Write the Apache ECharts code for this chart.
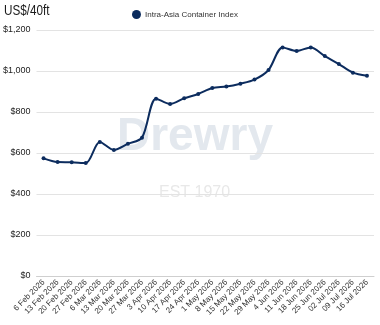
<!DOCTYPE html>
<html><head><meta charset="utf-8">
<script src="https://cdn.jsdelivr.net/npm/echarts@6/dist/echarts.min.js"></script>
<style>html,body{margin:0;padding:0;background:#fff}#c{width:380px;height:325px}</style>
</head><body><div id="c"></div>
<script>
const categories = ["6 Feb 2026","13 Feb 2026","20 Feb 2026","27 Feb 2026","6 Mar 2026","13 Mar 2026","20 Mar 2026","27 Mar 2026","3 Apr 2026","10 Apr 2026","17 Apr 2026","24 Apr 2026","1 May 2026","8 May 2026","15 May 2026","22 May 2026","29 May 2026","4 Jun 2026","11 Jun 2026","18 Jun 2026","25 Jun 2026","02 Jul 2026","09 Jul 2026","16 Jul 2026"];
const seriesName = "Intra-Asia Container Index";
const values = [574,556,555,551,654,615,645,675,865,839,867,888,917,924,938,958,1005,1115,1098,1115,1073,1034,992,977];
const yTicks = [0,200,400,600,800,1000,1200];
const unitLabel = 'US$/40ft';

const chart = echarts.init(document.getElementById('c'), null, {renderer:'canvas'});
const font = 'Liberation Sans, Arial, sans-serif';
chart.setOption({
  animation:false,
  backgroundColor:'#fff',
  legend:{data:[seriesName],left:127,top:5,icon:'circle',itemWidth:9,itemHeight:9,itemGap:4,
    textStyle:{fontFamily:font,fontSize:8,color:'#333',padding:[0,0,0,-1]}},
  graphic:[
    {type:'text',x:4,y:3,scaleX:0.78,silent:true,style:{text:unitLabel,font:'15px Liberation Sans, Arial, sans-serif',fill:'#1a1a1a'}},
    {type:'text',x:117,y:114,z:-10,silent:true,style:{text:'Drewry',font:'bold 46px Liberation Sans, Arial, sans-serif',fill:'#e3e8ee'}},
    {type:'text',x:159,y:185,z:-10,silent:true,style:{text:'EST 1970',font:'16px Liberation Sans, Arial, sans-serif',fill:'#e8e8e8'}}
  ],
  grid:{left:36,right:6,top:30,bottom:49,containLabel:false},
  xAxis:{type:'category',data:categories,boundaryGap:true,
    axisTick:{show:false},axisLine:{lineStyle:{color:'#cfcfcf'}},
    axisLabel:{interval:0,rotate:45,fontFamily:font,fontSize:8,color:'#333',margin:5}},
  yAxis:{type:'value',min:yTicks[0],max:yTicks[yTicks.length-1],interval:200,
    axisLine:{show:false},axisTick:{show:false},
    splitLine:{lineStyle:{color:'#e3e3e3'}},
    axisLabel:{fontFamily:font,fontSize:9,color:'#222',margin:6,
      formatter:v=>'$'+v.toLocaleString('en-US')}},
  series:[{name:seriesName,type:'line',data:values,smooth:0.3,symbol:'circle',symbolSize:4,
    lineStyle:{color:'#0c2c5e',width:2},itemStyle:{color:'#0c2c5e'},z:5}]
});
</script></body></html>
